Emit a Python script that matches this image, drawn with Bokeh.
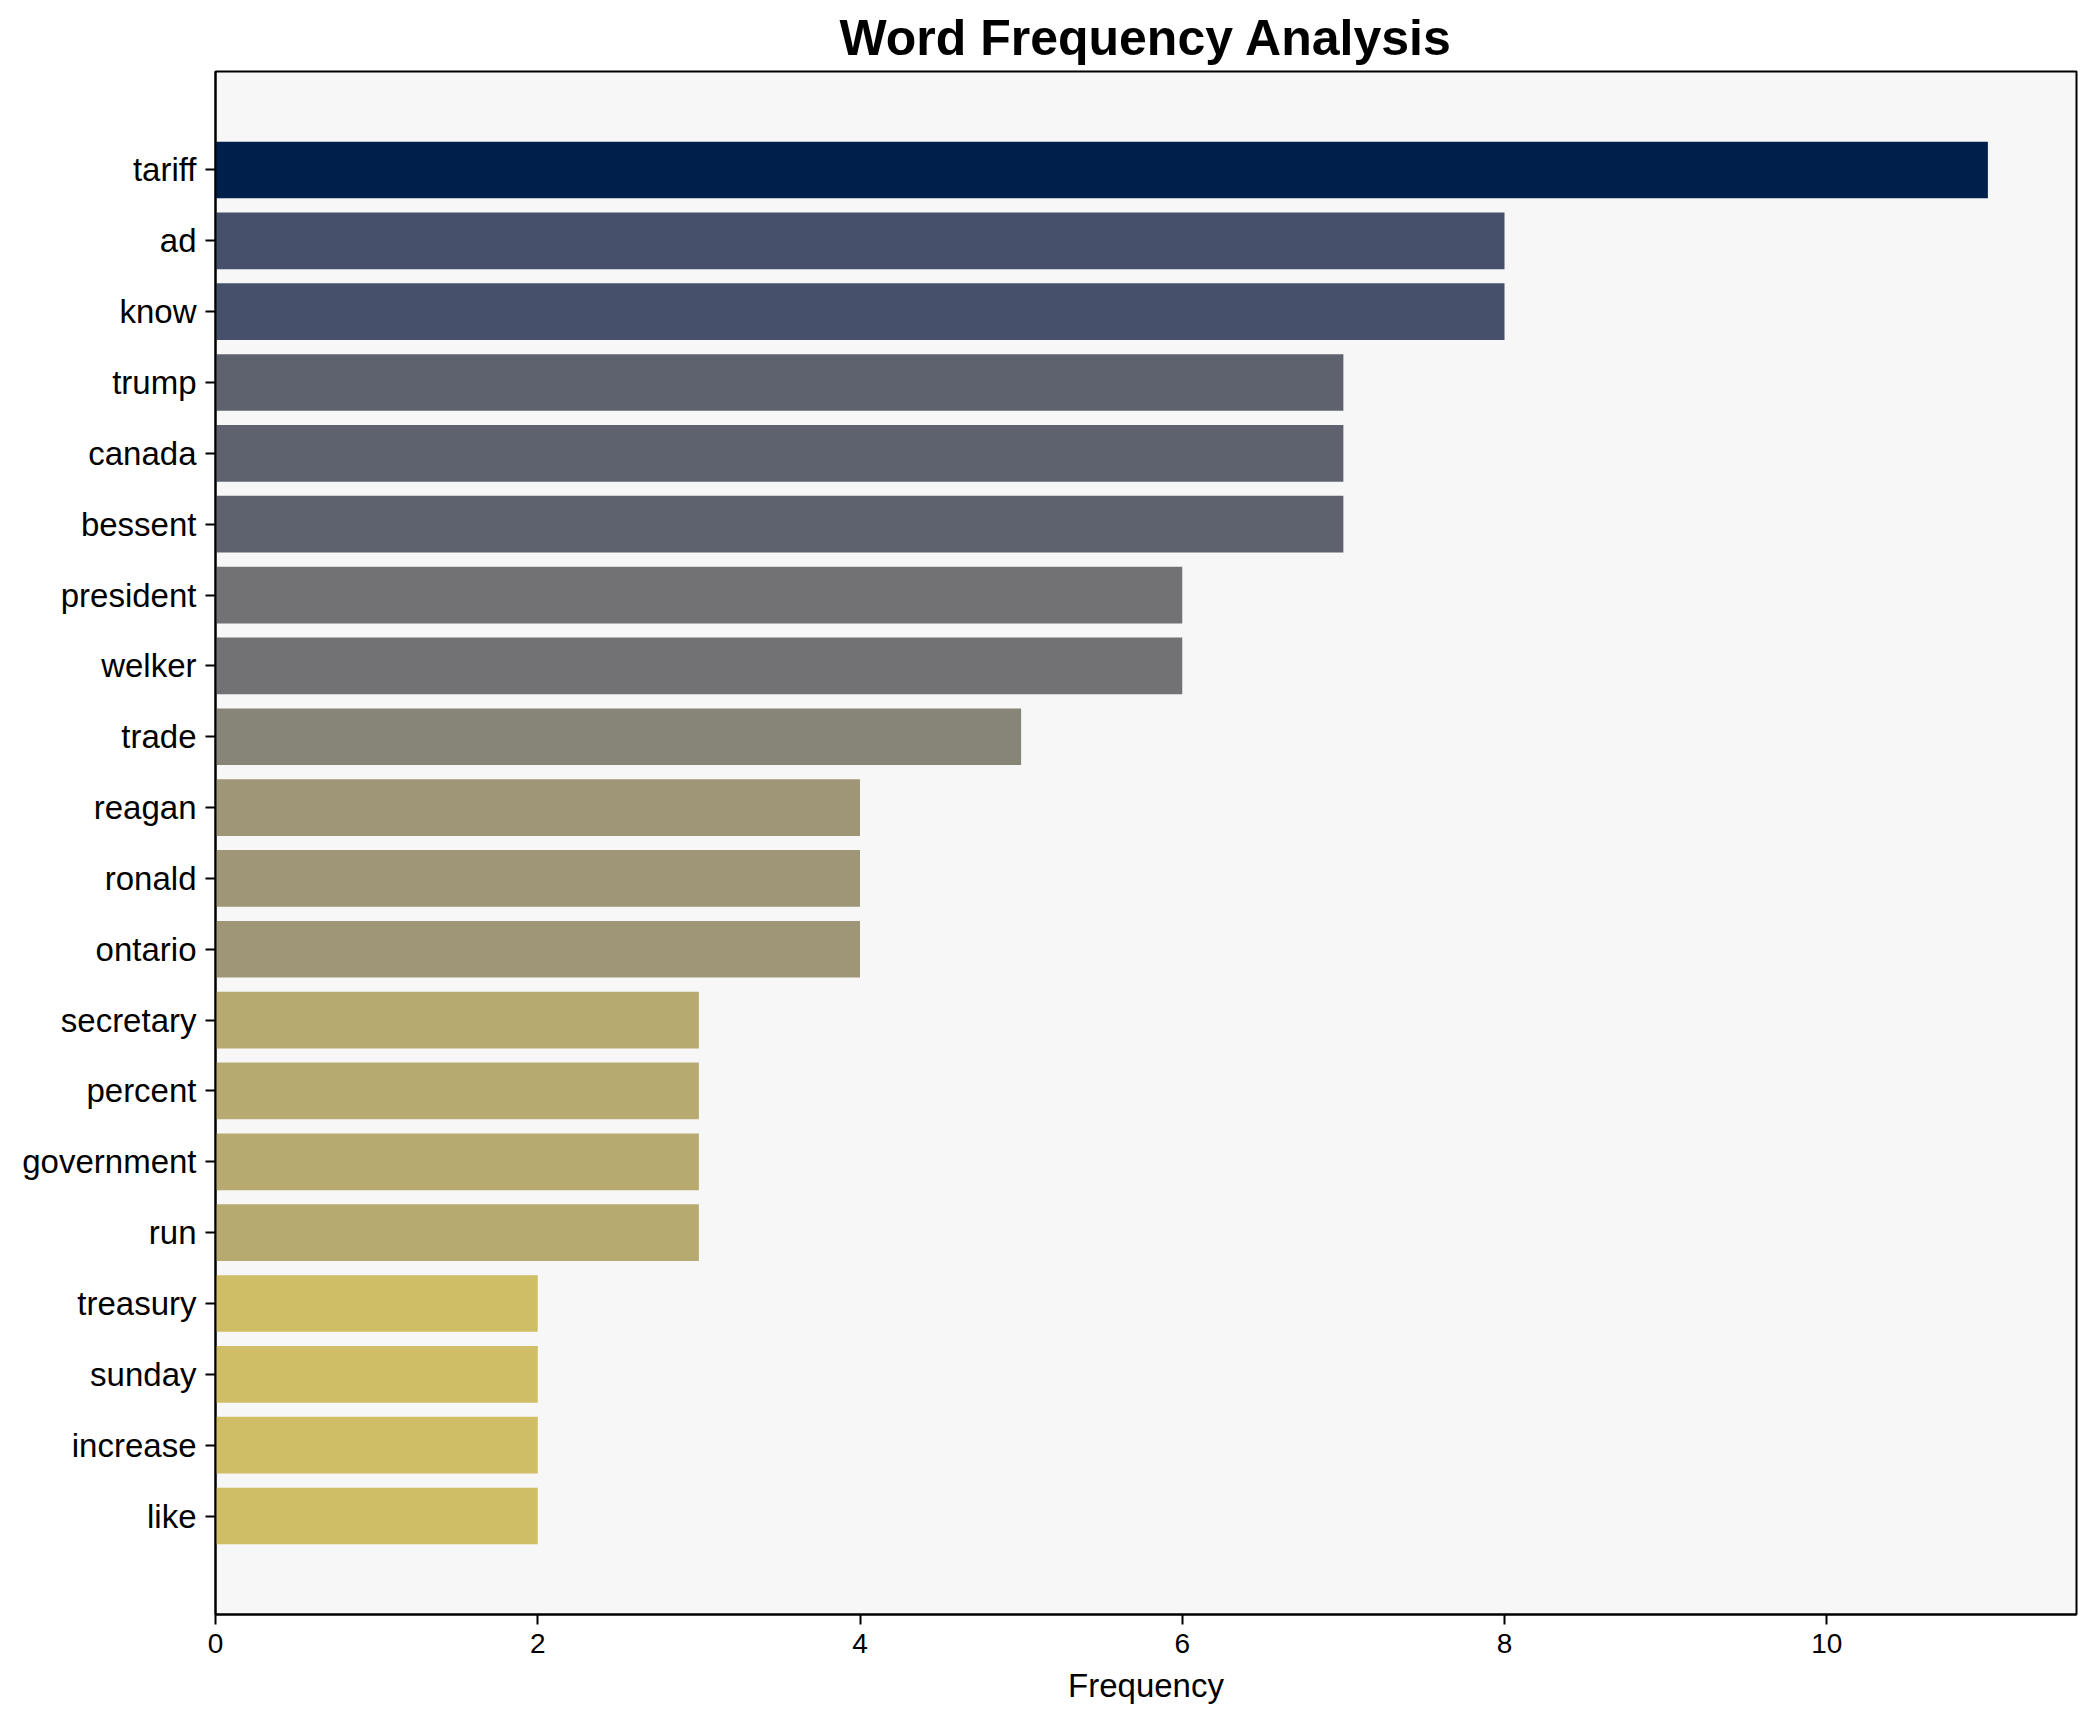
from bokeh.plotting import figure
from bokeh.models import ColumnDataSource, Range1d, FixedTicker
from bokeh.transform import linear_cmap
from bokeh.palettes import Cividis256
from bokeh.embed import file_html
from bokeh.resources import INLINE

words = ["tariff", "ad", "know", "trump", "canada", "bessent", "president", "welker",
         "trade", "reagan", "ronald", "ontario", "secretary", "percent", "government",
         "run", "treasury", "sunday", "increase", "like"]
counts = [11, 8, 8, 7, 7, 7, 6, 6, 5, 4, 4, 4, 3, 3, 3, 3, 2, 2, 2, 2]
x_ticks = [0, 2, 4, 6, 8, 10]

n = len(words)
ypos = [n - 1 - i for i in range(n)]
src = ColumnDataSource(dict(word=words, count=counts, y=ypos))

FONT = "Liberation Sans"

p = figure(frame_width=1861, frame_height=1543,
           min_border_left=215, min_border_right=11, min_border_top=71, min_border_bottom=100,
           x_range=Range1d(0, max(counts) * 1.05),
           y_range=Range1d(-0.4 - 0.99, n - 1 + 0.4 + 0.99),
           output_backend="svg", toolbar_location=None,
           title="Word Frequency Analysis")

p.hbar(y="y", right="count", left=0, height=0.8, source=src,
       fill_color=linear_cmap("count", list(reversed(Cividis256)), 0, max(counts)),
       line_color=None)

p.background_fill_color = "#f7f7f7"
p.border_fill_color = "white"
p.outline_line_color = "black"
p.outline_line_width = 2
p.xgrid.visible = False
p.ygrid.visible = False

p.title.text_font = FONT
p.title.text_font_size = "50px"
p.title.text_font_style = "bold"
p.title.align = "center"
p.title.text_color = "black"
p.title.standoff = 12

p.xaxis.ticker = FixedTicker(ticks=x_ticks)
p.yaxis.ticker = FixedTicker(ticks=ypos)
p.yaxis.major_label_overrides = {y: w for y, w in zip(ypos, words)}

for ax in (p.xaxis[0], p.yaxis[0]):
    ax.axis_line_color = "black"
    ax.axis_line_width = 2
    ax.major_tick_line_color = "black"
    ax.major_tick_line_width = 2
    ax.major_tick_out = 10
    ax.major_tick_in = 0
    ax.minor_tick_line_color = None
    ax.major_label_text_font = FONT
    ax.major_label_text_color = "black"
    ax.major_label_standoff = 9

p.xaxis.major_label_text_font_size = "28px"
p.yaxis.major_label_text_font_size = "33px"
p.xaxis.axis_label = "Frequency"
p.xaxis.axis_label_text_font = FONT
p.xaxis.axis_label_text_font_size = "33px"
p.xaxis.axis_label_text_font_style = "normal"
p.xaxis.axis_label_text_color = "black"
p.xaxis.axis_label_standoff = 11

open("out.html", "w").write(file_html(p, INLINE))
